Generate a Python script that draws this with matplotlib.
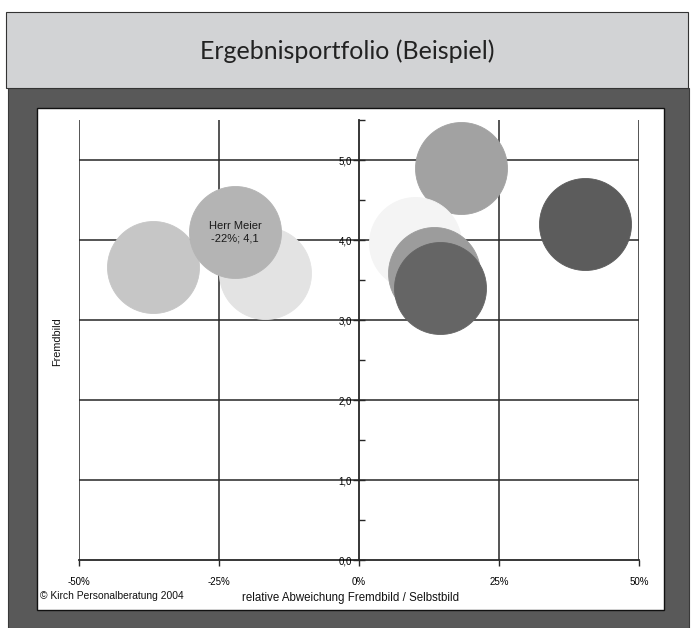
import matplotlib
matplotlib.use("Agg")
import matplotlib.pyplot as plt
from matplotlib.patches import Rectangle
from matplotlib.ticker import FixedLocator
import matplotlib.font_manager as fm

# ---- data ----
x_dev = [-0.368, -0.168, -0.221, 0.182, 0.100, 0.134, 0.145, 0.404]   # relative Abweichung
y_fremd = [3.66, 3.59, 4.10, 4.90, 3.96, 3.59, 3.40, 4.20]            # Fremdbild
bubble_colors = ["#c6c6c6", "#e3e3e3", "#b4b4b4", "#a2a2a2",
                 "#f4f4f4", "#9c9c9c", "#656565", "#5c5c5c"]
label_index = 2
label_text = "Herr Meier\n-22%; 4,1"
x_ticks = [-0.5, -0.25, 0.0, 0.25, 0.5]
x_ticklabels = ["-50%", "-25%", "0%", "25%", "50%"]
y_ticks = [0, 1, 2, 3, 4, 5]
y_ticklabels = ["0,0", "1,0", "2,0", "3,0", "4,0", "5,0"]
title = "Ergebnisportfolio (Beispiel)"
xlabel = "relative Abweichung Fremdbild / Selbstbild"
ylabel = "Fremdbild"
copyright_text = "© Kirch Personalberatung 2004"

names = {f.name for f in fm.fontManager.ttflist}
small_font = "Liberation Sans Narrow" if "Liberation Sans Narrow" in names else "Liberation Sans"
title_font = "Lato"

W, H = 692, 628
fig = plt.figure(figsize=(W / 100, H / 100), dpi=100)
fig.patch.set_facecolor("white")

def rect(x0, y0, x1, y1, z, **kw):
    fig.patches.append(Rectangle((x0 / W, 1 - y1 / H), (x1 - x0) / W, (y1 - y0) / H,
                                 transform=fig.transFigure, figure=fig, zorder=z, **kw))

# dark panel
rect(8, 88, 689, 628, -3, facecolor="#595959", edgecolor="#3a3a3a", lw=0.8)
# title box
rect(6, 12, 688, 88, -2, facecolor="#d2d3d5", edgecolor="#333333", lw=0.8)
# white chart area
rect(37, 108, 664, 610, -2, facecolor="white", edgecolor="#111111", lw=1.0)

fig.text(347 / W, 1 - 51 / H, title, ha="center", va="center", fontsize=18,
         family=[title_font, "DejaVu Sans"], color="#222222")

# axes
ax = fig.add_axes([79 / W, 1 - 560 / H, (639 - 79) / W, (560 - 120) / H])
ax.set_facecolor("none")
ax.set_xlim(-0.5, 0.5)
ax.set_ylim(0, 5.5)

gc = "#262626"
for yv in y_ticks[1:]:
    ax.axhline(yv, color=gc, lw=1.1, zorder=1)
for xv in [-0.5, -0.25, 0.25, 0.5]:
    ax.axvline(xv, color=gc, lw=1.1, zorder=1)

for s in ["top", "right"]:
    ax.spines[s].set_visible(False)
ax.spines["left"].set_position(("data", 0))
ax.spines["bottom"].set_position(("data", 0))
for s in ["left", "bottom"]:
    ax.spines[s].set_color(gc)
    ax.spines[s].set_linewidth(1.3)
    ax.spines[s].set_zorder(1)

ax.set_xticks(x_ticks)
ax.set_xticklabels(x_ticklabels, family=[small_font, "DejaVu Sans"], fontsize=7)
ax.set_yticks(y_ticks)
ax.set_yticklabels(y_ticklabels, family=[small_font, "DejaVu Sans"], fontsize=7)
ax.yaxis.set_minor_locator(FixedLocator([0.5, 1.5, 2.5, 3.5, 4.5, 5.5]))
ax.tick_params(axis="x", direction="out", length=4, width=1, color=gc, pad=8)
ax.tick_params(axis="y", which="major", direction="inout", length=8, width=1, color=gc, pad=1)
ax.tick_params(axis="y", which="minor", direction="in", length=4, width=1, color=gc)

# bubbles
r_pt = 46 * 72 / 100
for i, (xv, yv, c) in enumerate(zip(x_dev, y_fremd, bubble_colors)):
    ax.scatter([xv], [yv], s=(2 * r_pt) ** 2, color=c, edgecolors=c, linewidths=0.6,
               zorder=3 + i, clip_on=False)

ax.text(x_dev[label_index], y_fremd[label_index], label_text, ha="center", va="center",
        fontsize=8, family=[small_font, "DejaVu Sans"], color="#1a1a1a", zorder=20,
        linespacing=1.35)

fig.text(351 / W, 1 - 598 / H, xlabel, ha="center", va="center", fontsize=8.3,
         family=[small_font, "DejaVu Sans"], color="#111111")
fig.text(40 / W, 1 - 596 / H, copyright_text, ha="left", va="center", fontsize=7.4,
         family=[small_font, "DejaVu Sans"], color="#111111")
fig.text(57 / W, 1 - 342 / H, ylabel, ha="center", va="center", fontsize=7.8,
         rotation=90, family=[small_font, "DejaVu Sans"], color="#111111")

fig.savefig("out.png", dpi=100, facecolor="white")
